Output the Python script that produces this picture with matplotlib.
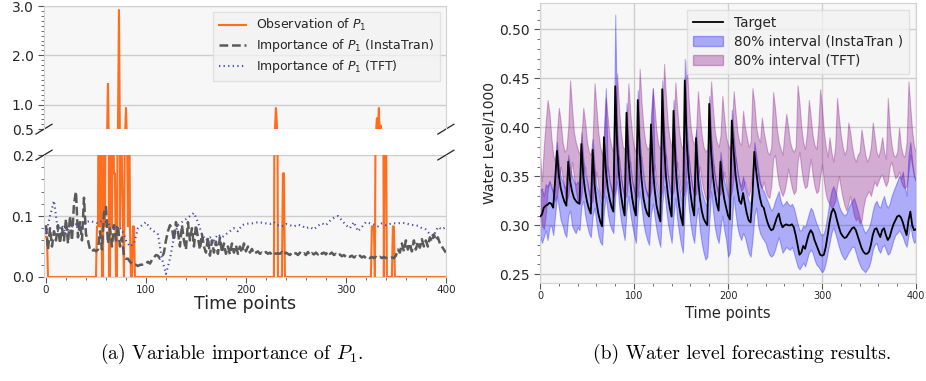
"""
Two-panel figure: variable importance of P1 (broken y axis) and
80% prediction intervals of water level for InstaTran and TFT.
"""
import matplotlib
matplotlib.use("Agg")
import matplotlib.pyplot as plt
import numpy as np
from matplotlib.lines import Line2D
from matplotlib.patches import Patch
from matplotlib.ticker import MultipleLocator, FixedLocator, FormatStrFormatter

# ---------------- left panel data ----------------
obs_spike_t = [0, 1, 51, 52, 53, 54, 55, 58, 59, 60, 61, 62, 65, 66, 67, 68, 69,
               72, 73, 74, 75, 76, 77, 79, 80, 81, 82, 83, 84, 87, 88,
               229, 230, 231, 237, 238, 326, 327, 328, 330, 331, 332, 333, 334,
               335, 336, 337, 339, 340, 347, 348]
obs_spike_v = [0.066, 0.066, 0.083, 0.083, 0.45, 0.083, 0.3, 0.35, 0.083, 0.4, 0.25,
               1.42, 0.3, 0.083, 0.35, 0.17, 0.17, 0.45, 2.92, 0.083, 0.4, 0.17,
               0.083, 0.3, 0.93, 0.25, 0.083, 0.4, 0.083, 0.083, 0.083,
               0.5, 0.93, 0.6, 0.17, 0.17, 0.083, 0.083, 0.083, 0.4, 0.72, 0.5,
               0.93, 0.3, 0.57, 0.25, 0.45, 0.35, 0.3, 0.083, 0.083]

# InstaTran importance, every 2 time points
insta_imp = [
    0.085, 0.045, 0.080, 0.050, 0.075, 0.060, 0.085, 0.055, 0.080, 0.060,
    0.095, 0.055, 0.100, 0.060, 0.120, 0.140, 0.065, 0.090, 0.060, 0.130,
    0.070, 0.060, 0.045, 0.042, 0.045, 0.042, 0.045, 0.075, 0.045, 0.105,
    0.115, 0.055, 0.080, 0.050, 0.085, 0.060, 0.085, 0.050, 0.065, 0.035,
    0.030, 0.030, 0.025, 0.022, 0.020, 0.020, 0.018, 0.020, 0.020, 0.022,
    0.022, 0.025, 0.022, 0.028, 0.032, 0.036, 0.035, 0.030, 0.032, 0.040,
    0.060, 0.075, 0.085, 0.080, 0.060, 0.090, 0.075, 0.050, 0.085, 0.060,
    0.045, 0.090, 0.060, 0.080, 0.050, 0.085, 0.065, 0.045, 0.070, 0.050,
    0.040, 0.065, 0.035, 0.060, 0.040, 0.058, 0.038, 0.065, 0.040, 0.055,
    0.038, 0.050, 0.037, 0.055, 0.040, 0.052, 0.038, 0.050, 0.040, 0.055,
    0.042, 0.050, 0.040, 0.046, 0.038, 0.040, 0.042, 0.038, 0.040, 0.038,
    0.041, 0.038, 0.040, 0.037, 0.040, 0.038, 0.039, 0.038, 0.041, 0.037,
    0.040, 0.038, 0.036, 0.040, 0.038, 0.039, 0.036, 0.040, 0.037, 0.039,
    0.036, 0.041, 0.036, 0.039, 0.037, 0.040, 0.037, 0.041, 0.038, 0.040,
    0.037, 0.042, 0.038, 0.040, 0.036, 0.038, 0.035, 0.037, 0.034, 0.036,
    0.033, 0.035, 0.033, 0.035, 0.032, 0.034, 0.032, 0.035, 0.032, 0.034,
    0.031, 0.033, 0.031, 0.033, 0.031, 0.033, 0.031, 0.033, 0.031, 0.033,
    0.031, 0.032, 0.031, 0.032, 0.031, 0.035, 0.045, 0.040, 0.055, 0.042,
    0.060, 0.045, 0.055, 0.042, 0.060, 0.045, 0.058, 0.048, 0.062, 0.050,
    0.060, 0.050, 0.065, 0.058, 0.070, 0.060, 0.065, 0.055, 0.050, 0.045,
    0.040,
]

# TFT importance, every 4 time points
tft_imp = [
    0.070, 0.100, 0.125, 0.075, 0.085, 0.070, 0.080, 0.085, 0.088, 0.080,
    0.090, 0.092, 0.090, 0.088, 0.092, 0.090, 0.085, 0.080, 0.083, 0.078,
    0.060, 0.050, 0.055, 0.080, 0.085, 0.090, 0.080, 0.075, 0.070, 0.030,
    0.005, 0.030, 0.065, 0.085, 0.090, 0.095, 0.100, 0.105, 0.090, 0.070,
    0.060, 0.065, 0.060, 0.070, 0.065, 0.070, 0.075, 0.080, 0.075, 0.085,
    0.087, 0.088, 0.088, 0.090, 0.089, 0.088, 0.087, 0.090, 0.085, 0.083,
    0.087, 0.085, 0.083, 0.086, 0.084, 0.080, 0.082, 0.078, 0.084, 0.088,
    0.085, 0.092, 0.097, 0.100, 0.093, 0.085, 0.080, 0.090, 0.075, 0.082,
    0.090, 0.088, 0.086, 0.083, 0.088, 0.085, 0.087, 0.088, 0.088, 0.089,
    0.088, 0.086, 0.085, 0.084, 0.080, 0.078, 0.070, 0.068, 0.082, 0.078,
    0.082,
]

# ---------------- right panel data (every 2 time points) ----------------
target = [
    0.309, 0.311, 0.318, 0.320, 0.321, 0.323, 0.322, 0.318, 0.345, 0.376,
    0.351, 0.338, 0.330, 0.324, 0.320, 0.365, 0.345, 0.335, 0.328, 0.325,
    0.323, 0.322, 0.383, 0.351, 0.335, 0.324, 0.317, 0.312, 0.377, 0.342,
    0.324, 0.312, 0.304, 0.299, 0.390, 0.356, 0.338, 0.327, 0.319, 0.314,
    0.442, 0.383, 0.352, 0.332, 0.319, 0.310, 0.415, 0.368, 0.344, 0.328,
    0.317, 0.310, 0.428, 0.375, 0.347, 0.328, 0.318, 0.312, 0.309, 0.403,
    0.359, 0.336, 0.320, 0.311, 0.304, 0.439, 0.381, 0.350, 0.331, 0.318,
    0.309, 0.417, 0.365, 0.337, 0.320, 0.308, 0.300, 0.448, 0.386, 0.354,
    0.333, 0.319, 0.310, 0.389, 0.349, 0.328, 0.315, 0.307, 0.303, 0.300,
    0.424, 0.375, 0.350, 0.334, 0.322, 0.315, 0.365, 0.340, 0.327, 0.318,
    0.310, 0.306, 0.407, 0.375, 0.352, 0.337, 0.325, 0.322, 0.333, 0.322,
    0.312, 0.305, 0.303, 0.330, 0.375, 0.355, 0.340, 0.328, 0.320, 0.318,
    0.310, 0.303, 0.298, 0.295, 0.296, 0.302, 0.308, 0.312, 0.303, 0.298,
    0.300, 0.301, 0.300, 0.300, 0.301, 0.298, 0.290, 0.280, 0.270, 0.272,
    0.279, 0.276, 0.284, 0.291, 0.295, 0.292, 0.285, 0.280, 0.275, 0.270,
    0.269, 0.270, 0.278, 0.290, 0.303, 0.313, 0.317, 0.313, 0.305, 0.298,
    0.292, 0.289, 0.287, 0.288, 0.291, 0.294, 0.297, 0.298, 0.295, 0.289,
    0.283, 0.277, 0.273, 0.271, 0.271, 0.273, 0.280, 0.290, 0.296, 0.297,
    0.292, 0.288, 0.295, 0.297, 0.290, 0.285, 0.288, 0.295, 0.301, 0.305,
    0.309, 0.310, 0.308, 0.303, 0.296, 0.290, 0.305, 0.314, 0.300, 0.295,
    0.296,
]
insta_hi = [
    0.335, 0.338, 0.330, 0.342, 0.340, 0.345, 0.338, 0.335, 0.352, 0.385,
    0.362, 0.350, 0.345, 0.340, 0.338, 0.372, 0.358, 0.350, 0.345, 0.342,
    0.345, 0.340, 0.395, 0.368, 0.352, 0.345, 0.335, 0.332, 0.388, 0.360,
    0.340, 0.335, 0.325, 0.318, 0.398, 0.440, 0.360, 0.345, 0.338, 0.332,
    0.515, 0.400, 0.368, 0.350, 0.338, 0.332, 0.425, 0.385, 0.362, 0.345,
    0.338, 0.330, 0.438, 0.390, 0.365, 0.348, 0.338, 0.333, 0.330, 0.412,
    0.440, 0.352, 0.338, 0.330, 0.325, 0.448, 0.398, 0.368, 0.350, 0.338,
    0.330, 0.428, 0.382, 0.355, 0.340, 0.328, 0.322, 0.470, 0.402, 0.372,
    0.352, 0.340, 0.332, 0.398, 0.365, 0.348, 0.335, 0.328, 0.322, 0.320,
    0.432, 0.392, 0.368, 0.352, 0.340, 0.335, 0.375, 0.358, 0.345, 0.338,
    0.330, 0.325, 0.418, 0.392, 0.370, 0.355, 0.345, 0.340, 0.350, 0.340,
    0.332, 0.325, 0.322, 0.345, 0.385, 0.372, 0.358, 0.345, 0.338, 0.335,
    0.330, 0.325, 0.320, 0.315, 0.318, 0.325, 0.330, 0.335, 0.325, 0.320,
    0.322, 0.325, 0.322, 0.320, 0.322, 0.318, 0.310, 0.302, 0.295, 0.295,
    0.300, 0.298, 0.305, 0.312, 0.318, 0.315, 0.308, 0.302, 0.298, 0.292,
    0.290, 0.292, 0.300, 0.312, 0.325, 0.335, 0.340, 0.335, 0.328, 0.320,
    0.315, 0.312, 0.310, 0.312, 0.318, 0.322, 0.325, 0.328, 0.322, 0.315,
    0.308, 0.302, 0.296, 0.292, 0.295, 0.298, 0.305, 0.315, 0.322, 0.325,
    0.320, 0.318, 0.325, 0.330, 0.322, 0.318, 0.322, 0.330, 0.335, 0.340,
    0.345, 0.350, 0.348, 0.355, 0.340, 0.330, 0.372, 0.385, 0.365, 0.350,
    0.345,
]
insta_lo = [
    0.290, 0.282, 0.288, 0.295, 0.285, 0.298, 0.300, 0.290, 0.310, 0.330,
    0.318, 0.305, 0.300, 0.292, 0.288, 0.310, 0.315, 0.300, 0.295, 0.292,
    0.298, 0.295, 0.320, 0.325, 0.310, 0.300, 0.292, 0.288, 0.310, 0.318,
    0.302, 0.290, 0.283, 0.280, 0.315, 0.330, 0.312, 0.302, 0.296, 0.292,
    0.330, 0.345, 0.322, 0.305, 0.295, 0.285, 0.315, 0.330, 0.312, 0.300,
    0.290, 0.282, 0.318, 0.335, 0.318, 0.302, 0.292, 0.285, 0.280, 0.312,
    0.322, 0.308, 0.295, 0.285, 0.278, 0.322, 0.340, 0.318, 0.302, 0.292,
    0.282, 0.310, 0.328, 0.305, 0.292, 0.280, 0.272, 0.320, 0.345, 0.320,
    0.302, 0.290, 0.282, 0.305, 0.318, 0.295, 0.282, 0.272, 0.265, 0.268,
    0.302, 0.335, 0.315, 0.298, 0.288, 0.282, 0.298, 0.310, 0.295, 0.285,
    0.268, 0.272, 0.300, 0.330, 0.312, 0.298, 0.290, 0.285, 0.292, 0.288,
    0.280, 0.272, 0.268, 0.285, 0.310, 0.318, 0.300, 0.292, 0.288, 0.285,
    0.282, 0.275, 0.270, 0.268, 0.270, 0.275, 0.282, 0.288, 0.280, 0.272,
    0.275, 0.278, 0.276, 0.275, 0.278, 0.272, 0.265, 0.258, 0.255, 0.258,
    0.262, 0.258, 0.265, 0.272, 0.275, 0.272, 0.265, 0.260, 0.258, 0.255,
    0.252, 0.255, 0.262, 0.272, 0.282, 0.292, 0.298, 0.292, 0.285, 0.278,
    0.272, 0.268, 0.265, 0.268, 0.272, 0.275, 0.278, 0.278, 0.272, 0.265,
    0.260, 0.256, 0.254, 0.252, 0.255, 0.258, 0.265, 0.275, 0.280, 0.282,
    0.275, 0.272, 0.278, 0.280, 0.275, 0.270, 0.272, 0.278, 0.285, 0.290,
    0.292, 0.295, 0.292, 0.288, 0.282, 0.278, 0.290, 0.300, 0.288, 0.282,
    0.285,
]
tft_hi = [
    0.370, 0.345, 0.380, 0.405, 0.428, 0.415, 0.390, 0.372, 0.365, 0.395,
    0.420, 0.405, 0.385, 0.375, 0.378, 0.400, 0.448, 0.420, 0.395, 0.385,
    0.378, 0.372, 0.390, 0.420, 0.405, 0.385, 0.375, 0.372, 0.390, 0.445,
    0.420, 0.395, 0.380, 0.372, 0.385, 0.430, 0.410, 0.390, 0.380, 0.375,
    0.400, 0.455, 0.420, 0.395, 0.380, 0.378, 0.390, 0.445, 0.415, 0.392,
    0.380, 0.375, 0.392, 0.460, 0.425, 0.400, 0.385, 0.378, 0.380, 0.395,
    0.440, 0.418, 0.395, 0.382, 0.378, 0.400, 0.465, 0.430, 0.402, 0.388,
    0.380, 0.395, 0.446, 0.418, 0.395, 0.382, 0.378, 0.405, 0.468, 0.430,
    0.402, 0.388, 0.382, 0.395, 0.437, 0.412, 0.392, 0.380, 0.375, 0.378,
    0.400, 0.447, 0.418, 0.395, 0.385, 0.380, 0.392, 0.432, 0.410, 0.390,
    0.382, 0.378, 0.395, 0.437, 0.415, 0.395, 0.385, 0.382, 0.417, 0.400,
    0.390, 0.380, 0.385, 0.440, 0.425, 0.400, 0.390, 0.385, 0.410, 0.395,
    0.385, 0.375, 0.372, 0.380, 0.436, 0.420, 0.398, 0.385, 0.378, 0.372,
    0.395, 0.414, 0.400, 0.385, 0.378, 0.375, 0.380, 0.443, 0.425, 0.400,
    0.385, 0.378, 0.395, 0.428, 0.410, 0.392, 0.382, 0.378, 0.400, 0.439,
    0.420, 0.395, 0.380, 0.370, 0.390, 0.375, 0.365, 0.380, 0.430, 0.410,
    0.392, 0.380, 0.372, 0.378, 0.405, 0.395, 0.380, 0.370, 0.365, 0.372,
    0.375, 0.398, 0.385, 0.372, 0.365, 0.370, 0.380, 0.405, 0.390, 0.375,
    0.370, 0.378, 0.390, 0.375, 0.368, 0.430, 0.400, 0.382, 0.372, 0.370,
    0.375, 0.400, 0.380, 0.372, 0.370, 0.385, 0.447, 0.420, 0.395, 0.380,
    0.375,
]
tft_lo = [
    0.320, 0.300, 0.296, 0.310, 0.335, 0.345, 0.340, 0.330, 0.325, 0.330,
    0.345, 0.360, 0.350, 0.335, 0.325, 0.330, 0.345, 0.365, 0.350, 0.335,
    0.325, 0.322, 0.330, 0.350, 0.360, 0.345, 0.332, 0.322, 0.325, 0.345,
    0.355, 0.340, 0.330, 0.325, 0.330, 0.350, 0.360, 0.345, 0.335, 0.328,
    0.335, 0.355, 0.370, 0.350, 0.335, 0.328, 0.330, 0.350, 0.365, 0.345,
    0.335, 0.328, 0.330, 0.352, 0.370, 0.352, 0.338, 0.330, 0.328, 0.335,
    0.350, 0.362, 0.345, 0.335, 0.328, 0.335, 0.355, 0.372, 0.352, 0.340,
    0.330, 0.335, 0.352, 0.365, 0.348, 0.335, 0.328, 0.335, 0.358, 0.372,
    0.352, 0.338, 0.330, 0.332, 0.350, 0.360, 0.345, 0.335, 0.328, 0.325,
    0.330, 0.348, 0.362, 0.348, 0.336, 0.330, 0.332, 0.345, 0.355, 0.342,
    0.332, 0.328, 0.335, 0.350, 0.370, 0.355, 0.342, 0.335, 0.338, 0.345,
    0.335, 0.330, 0.338, 0.355, 0.375, 0.365, 0.350, 0.342, 0.338, 0.345,
    0.335, 0.330, 0.328, 0.340, 0.368, 0.372, 0.355, 0.342, 0.335, 0.330,
    0.335, 0.345, 0.358, 0.348, 0.338, 0.332, 0.335, 0.365, 0.375, 0.358,
    0.345, 0.338, 0.340, 0.355, 0.368, 0.352, 0.340, 0.333, 0.335, 0.350,
    0.362, 0.345, 0.332, 0.325, 0.322, 0.318, 0.320, 0.325, 0.340, 0.350,
    0.338, 0.328, 0.320, 0.315, 0.322, 0.330, 0.320, 0.310, 0.305, 0.308,
    0.302, 0.305, 0.318, 0.328, 0.332, 0.335, 0.330, 0.338, 0.345, 0.340,
    0.345, 0.350, 0.352, 0.345, 0.340, 0.345, 0.360, 0.365, 0.355, 0.348,
    0.350, 0.355, 0.345, 0.340, 0.338, 0.340, 0.355, 0.372, 0.360, 0.350,
    0.345,
]

ORANGE = "#ff6d1f"
GRAY = "#5a5a5a"
DOTBLUE = "#4a4aad"
FACE = "#f7f7f7"
SPINE = "#d2d2d2"
GRID = "#cdcdcd"
TEXT = "#262626"

plt.rcParams["font.family"] = ["DejaVu Sans"]
plt.rcParams["text.color"] = TEXT
plt.rcParams["axes.labelcolor"] = TEXT
plt.rcParams["xtick.color"] = "#555555"
plt.rcParams["ytick.color"] = "#555555"
plt.rcParams["xtick.labelcolor"] = TEXT
plt.rcParams["ytick.labelcolor"] = TEXT


def style_axis(ax):
    ax.set_facecolor(FACE)
    for spine in ax.spines.values():
        spine.set_color(SPINE)
    ax.tick_params(which="both", direction="out")
    ax.tick_params(which="major", length=4, width=0.8)
    ax.tick_params(which="minor", length=2.5, width=0.6)
    ax.set_axisbelow(True)


def add_break(ax, y_frac, dx, dy):
    kw = dict(transform=ax.transAxes, color="#222222", clip_on=False, lw=0.9)
    ax.plot([-dx, dx], [y_frac - dy, y_frac + dy], **kw)
    ax.plot([1 - dx, 1 + dx], [y_frac - dy, y_frac + dy], **kw)


if __name__ == "__main__":
    obs = np.zeros(401)
    obs[obs_spike_t] = obs_spike_v
    t_full = np.arange(401)
    t_insta = np.arange(len(insta_imp)) * 2
    t_tft = np.arange(len(tft_imp)) * 4
    t_right = np.arange(len(target)) * 2

    fig = plt.figure(figsize=(9.26, 3.81), dpi=100)

    # ---- left panel, broken y axis ----
    ax_top = fig.add_axes([0.0475, 0.661, 0.434, 0.323])
    ax_bot = fig.add_axes([0.0475, 0.273, 0.434, 0.320])

    for ax in (ax_top, ax_bot):
        style_axis(ax)
        ax.plot(t_full, obs, color=ORANGE, lw=1.5, label="Observation of $P_1$", zorder=2)
        ax.plot(t_insta, insta_imp, color=GRAY, lw=1.8, linestyle=(0, (3.5, 1.5)),
                label="Importance of $P_1$ (InstaTran)", zorder=3)
        ax.plot(t_tft, tft_imp, color=DOTBLUE, lw=1.5, linestyle=(0, (0.6, 1.6)),
                label="Importance of $P_1$ (TFT)", zorder=4)
        ax.set_xlim(-2, 400)
        ax.grid(axis="y", color=GRID, lw=1)

    ax_top.set_ylim(0.5, 3.0)
    ax_top.yaxis.set_major_locator(FixedLocator([0.5, 1.0, 2.0, 3.0]))
    ax_top.yaxis.set_minor_locator(MultipleLocator(0.1))
    ax_top.yaxis.set_major_formatter(FormatStrFormatter("%.1f"))
    ax_top.spines["bottom"].set_visible(False)
    ax_top.tick_params(axis="x", which="both", bottom=False, labelbottom=False)
    ax_top.tick_params(axis="y", labelsize=10)

    ax_bot.set_ylim(0.0, 0.2)
    ax_bot.yaxis.set_major_locator(MultipleLocator(0.1))
    ax_bot.yaxis.set_minor_locator(MultipleLocator(0.02))
    ax_bot.yaxis.set_major_formatter(FormatStrFormatter("%.1f"))
    ax_bot.spines["top"].set_visible(False)
    ax_bot.xaxis.set_major_locator(MultipleLocator(100))
    ax_bot.xaxis.set_minor_locator(MultipleLocator(20))
    ax_bot.tick_params(axis="x", labelsize=7.5, pad=2)
    ax_bot.tick_params(axis="y", labelsize=10)
    ax_bot.set_xlabel("Time points", fontsize=12.5, labelpad=0)

    add_break(ax_top, 0.0, 0.02, 0.04)
    add_break(ax_bot, 1.0, 0.02, 0.04)

    leg = ax_top.legend(loc="upper right", fontsize=9.0, fancybox=False,
                        borderaxespad=0.45, handlelength=2.2, labelspacing=0.3,
                        borderpad=0.45)
    leg.get_frame().set_facecolor("#f2f2f2")
    leg.get_frame().set_edgecolor("#dcdcdc")

    # ---- right panel ----
    ax_r = fig.add_axes([0.5832, 0.257, 0.406, 0.735])
    style_axis(ax_r)
    ax_r.fill_between(t_right, insta_lo, insta_hi, color="blue", alpha=0.3, lw=0.8)
    ax_r.fill_between(t_right, tft_lo, tft_hi, color="purple", alpha=0.3, lw=0.8)
    ax_r.plot(t_right, target, color="black", lw=1.3, zorder=5)
    ax_r.set_xlim(0, 400)
    ax_r.set_ylim(0.241, 0.527)
    ax_r.xaxis.set_major_locator(MultipleLocator(100))
    ax_r.xaxis.set_minor_locator(MultipleLocator(20))
    ax_r.yaxis.set_major_locator(MultipleLocator(0.05))
    ax_r.yaxis.set_minor_locator(MultipleLocator(0.01))
    ax_r.yaxis.set_major_formatter(FormatStrFormatter("%.2f"))
    ax_r.grid(which="major", color=GRID, lw=1)
    ax_r.tick_params(axis="x", labelsize=7, pad=2)
    ax_r.tick_params(axis="y", labelsize=10)
    ax_r.set_xlabel("Time points", fontsize=10.5, labelpad=3)
    ax_r.set_ylabel("Water Level/1000", fontsize=10, labelpad=2)

    handles = [
        Line2D([], [], color="black", lw=1.3),
        Patch(facecolor="blue", edgecolor="blue", alpha=0.3),
        Patch(facecolor="purple", edgecolor="purple", alpha=0.3),
    ]
    labels = ["Target", "80% interval (InstaTran )", "80% interval (TFT)"]
    leg_r = ax_r.legend(handles, labels, loc="upper right", fontsize=9.8, fancybox=False,
                        borderaxespad=0.5, handlelength=2.2, labelspacing=0.35,
                        borderpad=0.45)
    leg_r.get_frame().set_facecolor("#f2f2f2")
    leg_r.get_frame().set_edgecolor("#dcdcdc")

    # ---- captions ----
    fig.text(0.250, 0.07, "(a) Variable importance of $P_1$.", ha="center", va="center",
             family="cmr10", math_fontfamily="cm", fontsize=14.2, color="black")
    fig.text(0.801, 0.07, "(b) Water level forecasting results.", ha="center", va="center",
             family="cmr10", math_fontfamily="cm", fontsize=14.2, color="black")

    fig.savefig("out.png", dpi=100)
    plt.close(fig)
